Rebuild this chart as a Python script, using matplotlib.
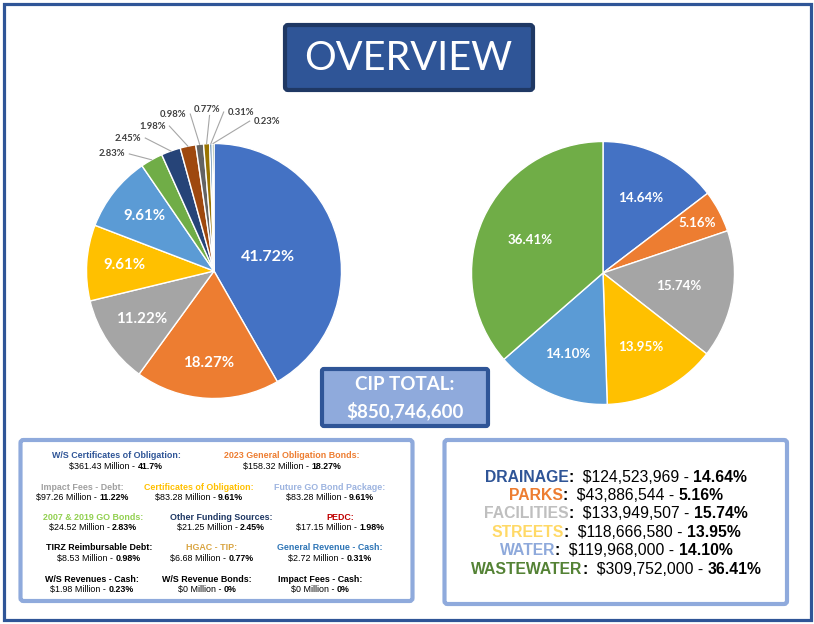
import numpy as np
import matplotlib
matplotlib.use("Agg")
import matplotlib.pyplot as plt
from matplotlib.patches import FancyBboxPatch, Rectangle

W, H = 814, 624

# ---- data --------------------------------------------------------------
# left pie: funding sources (percent of CIP total)
source_pct = [41.72, 18.27, 11.22, 9.61, 9.61, 2.83, 2.45, 1.98, 0.98, 0.77, 0.31, 0.23]
source_colors = ["#4472C4", "#ED7D31", "#A5A5A5", "#FFC000", "#5B9BD5", "#70AD47",
                 "#264478", "#9E480E", "#636363", "#997300", "#255E91", "#43682B"]

# funding source table
source_names = ["W/S Certificates of Obligation", "2023 General Obligation Bonds",
                "Impact Fees - Debt", "Certificates of Obligation", "Future GO Bond Package",
                "2007 & 2019 GO Bonds", "Other Funding Sources", "PEDC",
                "TIRZ Reimbursable Debt", "HGAC - TIP", "General Revenue - Cash",
                "W/S Revenues - Cash", "W/S Revenue Bonds", "Impact Fees - Cash"]
source_millions = ["$361.43", "$158.32", "$97.26", "$83.28", "$83.28", "$24.52", "$21.25",
                   "$17.15", "$8.53", "$6.68", "$2.72", "$1.98", "$0", "$0"]
source_share = ["41.7%", "18.27%", "11.22%", "9.61%", "9.61%", "2.83%", "2.45%",
                "1.98%", "0.98%", "0.77%", "0.31%", "0.23%", "0%", "0%"]
source_name_colors = ["#2F5597", "#ED7D31", "#A0A0A0", "#FFC000", "#9DB4E0",
                      "#92D050", "#1F3864", "#C00000", "#000000", "#D9A441",
                      "#2E75B6", "#000000", "#000000", "#000000"]

# right pie: categories
cat_names = ["DRAINAGE", "PARKS", "FACILITIES", "STREETS", "WATER", "WASTEWATER"]
cat_amounts = ["$124,523,969", "$43,886,544", "$133,949,507", "$118,666,580",
               "$119,968,000", "$309,752,000"]
cat_pct = [14.64, 5.16, 15.74, 13.95, 14.10, 36.41]
cat_colors = ["#4472C4", "#ED7D31", "#A5A5A5", "#FFC000", "#5B9BD5", "#70AD47"]
cat_text_colors = ["#2F5597", "#ED7D31", "#BFBFBF", "#FFD966", "#8EA9DB", "#548235"]

cip_total = "$850,746,600"

# ---- figure ------------------------------------------------------------
fig = plt.figure(figsize=(W / 100, H / 100), dpi=100)
bg = fig.add_axes([0, 0, 1, 1], zorder=5)
bg.set_xlim(0, W)
bg.set_ylim(H, 0)
bg.axis("off")
bg.patch.set_alpha(0)
renderer = fig.canvas.get_renderer()

SANS = "Liberation Sans"
CAL = "Lato"


def advance(s, **kw):
    t = bg.text(0, 0, "|" + s + "|", **kw)
    w1 = t.get_window_extent(renderer).width
    t.remove()
    t = bg.text(0, 0, "||", **kw)
    w0 = t.get_window_extent(renderer).width
    t.remove()
    return w1 - w0


def rich_line(xc, y, parts, size):
    # parts: (text, color, weight), laid out left to right and centred on xc
    widths = [advance(s, fontsize=size, fontweight=wt, family=SANS) for s, c, wt in parts]
    x = xc - sum(widths) / 2
    for (s, c, wt), wd in zip(parts, widths):
        bg.text(x, y, s, fontsize=size, fontweight=wt, color=c, family=SANS,
                ha="left", va="center")
        x += wd


# outer frame
bg.add_patch(Rectangle((3.5, 3.5), W - 7, H - 7.5, fill=False, ec="#2F5597", lw=2.3))

# title box
bg.add_patch(FancyBboxPatch((285, 25), 248, 65, boxstyle="round,pad=0,rounding_size=3",
                            fc="#2F5597", ec="#1F3864", lw=3))
bg.text(408, 58, "OVERVIEW", color="white", fontsize=28.5, family=CAL,
        ha="center", va="center")

# CIP total box
bg.add_patch(FancyBboxPatch((322, 369), 166, 57, boxstyle="round,pad=0,rounding_size=2",
                            fc="#8FAADC", ec="#2F5597", lw=3))
bg.text(405, 385, "CIP TOTAL:", color="white", fontsize=13.5, fontweight="bold",
        family=CAL, ha="center", va="center")
bg.text(405, 411, cip_total, color="white", fontsize=13.5, fontweight="bold",
        family=CAL, ha="center", va="center")

# legend boxes
bg.add_patch(FancyBboxPatch((20.5, 440), 392, 161, boxstyle="round,pad=0,rounding_size=3",
                            fc="white", ec="#8FAADC", lw=3))
bg.add_patch(FancyBboxPatch((444.5, 440), 342.5, 164, boxstyle="round,pad=0,rounding_size=3",
                            fc="white", ec="#8FAADC", lw=3))

# funding source table (layout positions in pixels)
table_pos = [(116, 456), (292, 456),
             (82, 487), (199, 487), (330, 487),
             (93, 517), (221, 517), (340, 517),
             (99, 548), (212, 548), (330, 548),
             (92, 579), (207, 579), (320, 579)]
for i, (xc, yc) in enumerate(table_pos):
    bg.text(xc, yc, source_names[i] + ":", fontsize=6.4, fontweight="bold",
            color=source_name_colors[i], family=SANS, ha="center", va="center")
    rich_line(xc, yc + 10.5, [(source_millions[i] + " Million - ", "black", "normal"),
                              (source_share[i], "black", "bold")], 6.4)

# category legend
for i, name in enumerate(cat_names):
    y = 477 + i * 18.4
    rich_line(616, y, [(name, cat_text_colors[i], "bold"), (":", "black", "bold"),
                       ("  " + cat_amounts[i] + " - ", "black", "normal"),
                       ("%.2f%%" % cat_pct[i], "black", "bold")], 11.3)


def pie_axes(cx, cy, r):
    return fig.add_axes([(cx - r) / W, 1 - (cy + r) / H, 2 * r / W, 2 * r / H])


# ---- left pie ------------------------------------------------------------
axl = pie_axes(214, 271, 127.5)
axl.pie(source_pct, colors=source_colors, startangle=90, counterclock=False,
        wedgeprops=dict(edgecolor="white", linewidth=1))
axl.set_xlim(-1, 1)
axl.set_ylim(-1, 1)

frac = np.array(source_pct) / sum(source_pct)
mids = np.deg2rad(90 - 360 * (np.cumsum(frac) - frac / 2))
inner_dist = [0.44, 0.72, 0.68, 0.70, 0.70]
for i, d in enumerate(inner_dist):
    axl.text(d * np.cos(mids[i]), d * np.sin(mids[i]), "%.2f%%" % source_pct[i],
             color="white", fontsize=11.5 if i == 0 else 10.8, fontweight="bold",
             family=CAL, ha="center", va="center")

# outside labels for the small slices: (x, y, ha) in pie units
outer_pos = [(-0.694, 0.918, "right"), (-0.569, 1.043, "right"), (-0.380, 1.137, "right"),
             (-0.216, 1.231, "right"), (-0.055, 1.27, "center"), (0.106, 1.247, "left"),
             (0.31, 1.176, "left")]
for k, (lx, ly, ha) in enumerate(outer_pos):
    i = k + 5
    axl.text(lx, ly, "%.2f%%" % source_pct[i], color="#404040", fontsize=6.8,
             fontweight="bold", family=CAL, ha=ha, va="center", clip_on=False)
    ex, ey = np.cos(mids[i]), np.sin(mids[i])
    if ha == "right":
        sx, sy = lx + 0.03, ly
    elif ha == "left":
        sx, sy = lx - 0.03, ly
    else:
        sx, sy = lx + 0.02, ly - 0.05
    axl.plot([sx, ex], [sy, ey], color="#A6A6A6", lw=0.8, clip_on=False)

# ---- right pie -----------------------------------------------------------
axr = pie_axes(603, 273, 131.5)
axr.pie(cat_pct, colors=cat_colors, startangle=90, counterclock=False,
        wedgeprops=dict(edgecolor="white", linewidth=1))
axr.set_xlim(-1, 1)
axr.set_ylim(-1, 1)
cfrac = np.array(cat_pct) / sum(cat_pct)
cmids = np.deg2rad(90 - 360 * (np.cumsum(cfrac) - cfrac / 2))
cat_dist = [0.64, 0.81, 0.58, 0.63, 0.67, 0.61]
for i, d in enumerate(cat_dist):
    axr.text(d * np.cos(cmids[i]), d * np.sin(cmids[i]), "%.2f%%" % cat_pct[i],
             color="white", fontsize=9.6, fontweight="bold", family=CAL,
             ha="center", va="center")

fig.savefig("out.png", dpi=100)
